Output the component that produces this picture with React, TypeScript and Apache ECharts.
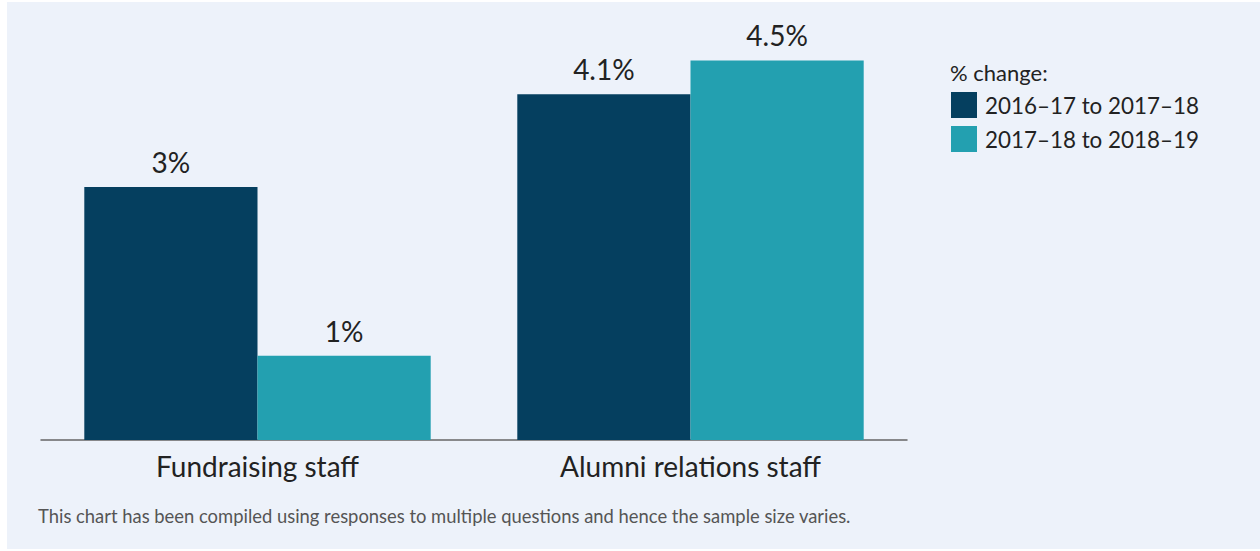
import React, { useEffect, useRef } from "react";
import * as echarts from "echarts";

const categories = ["Fundraising staff", "Alumni relations staff"];
const seriesNames = ["2016–17 to 2017–18", "2017–18 to 2018–19"];
const series1 = [3, 4.1];
const series2 = [1, 4.5];
const colors = ["#053f5f", "#23a0b0"];
const legendTitle = "% change:";
const footnote =
  "This chart has been compiled using responses to multiple questions and hence the sample size varies.";

export default function App() {
  const ref = useRef<HTMLDivElement>(null);
  useEffect(() => {
    document.body.style.margin = "0";
    const chart = echarts.init(ref.current!, null, { renderer: "svg" });
    const font = "Lato, 'Noto Sans', sans-serif";
    const label = {
      show: true,
      position: "top",
      distance: 11,
      fontSize: 28,
      color: "#222",
      fontFamily: font,
      formatter: (p: any) => `${p.value}%`,
    };
    chart.setOption({
      animation: false,
      backgroundColor: "#edf2fa",
      textStyle: { fontFamily: font },
      grid: { left: 34, right: 353, top: 16.3, bottom: 109 },
      legend: {
        orient: "vertical",
        left: 944,
        top: 90,
        padding: 0,
        itemWidth: 26,
        itemHeight: 26,
        itemGap: 8,
        icon: "rect",
        textStyle: { fontSize: 22.4, color: "#222", fontFamily: font, padding: [0, 0, 0, 3] },
        data: seriesNames,
      },
      title: [
        {
          text: legendTitle,
          left: 943,
          top: 59,
          padding: 0,
          textStyle: { fontSize: 22, color: "#222", fontWeight: "normal", fontFamily: font },
        },
        {
          text: footnote,
          left: 31,
          top: 505,
          padding: 0,
          textStyle: { fontSize: 18.4, color: "#555", fontWeight: "normal", fontFamily: font },
        },
      ],
      xAxis: {
        type: "category",
        data: categories,
        axisTick: { show: false },
        axisLine: { lineStyle: { color: "#666", width: 1.5 } },
        axisLabel: { fontSize: 28, color: "#222", margin: 12, fontFamily: font },
      },
      yAxis: {
        type: "value",
        min: 0,
        max: 5,
        show: false,
        splitLine: { show: false },
      },
      series: [
        {
          name: seriesNames[0],
          type: "bar",
          data: series1,
          barGap: "0%",
          barCategoryGap: "20%",
          itemStyle: { color: colors[0] },
          label,
        },
        {
          name: seriesNames[1],
          type: "bar",
          data: series2,
          barGap: "0%",
          barCategoryGap: "20%",
          itemStyle: { color: colors[1] },
          label,
        },
      ],
    });
    return () => chart.dispose();
  }, []);
  return (
    <div style={{ position: "relative", width: 1260, height: 551, background: "#fff" }}>
      <div
        ref={ref}
        style={{ position: "absolute", left: 7, top: 2, width: 1253, height: 547 }}
      />
    </div>
  );
}
